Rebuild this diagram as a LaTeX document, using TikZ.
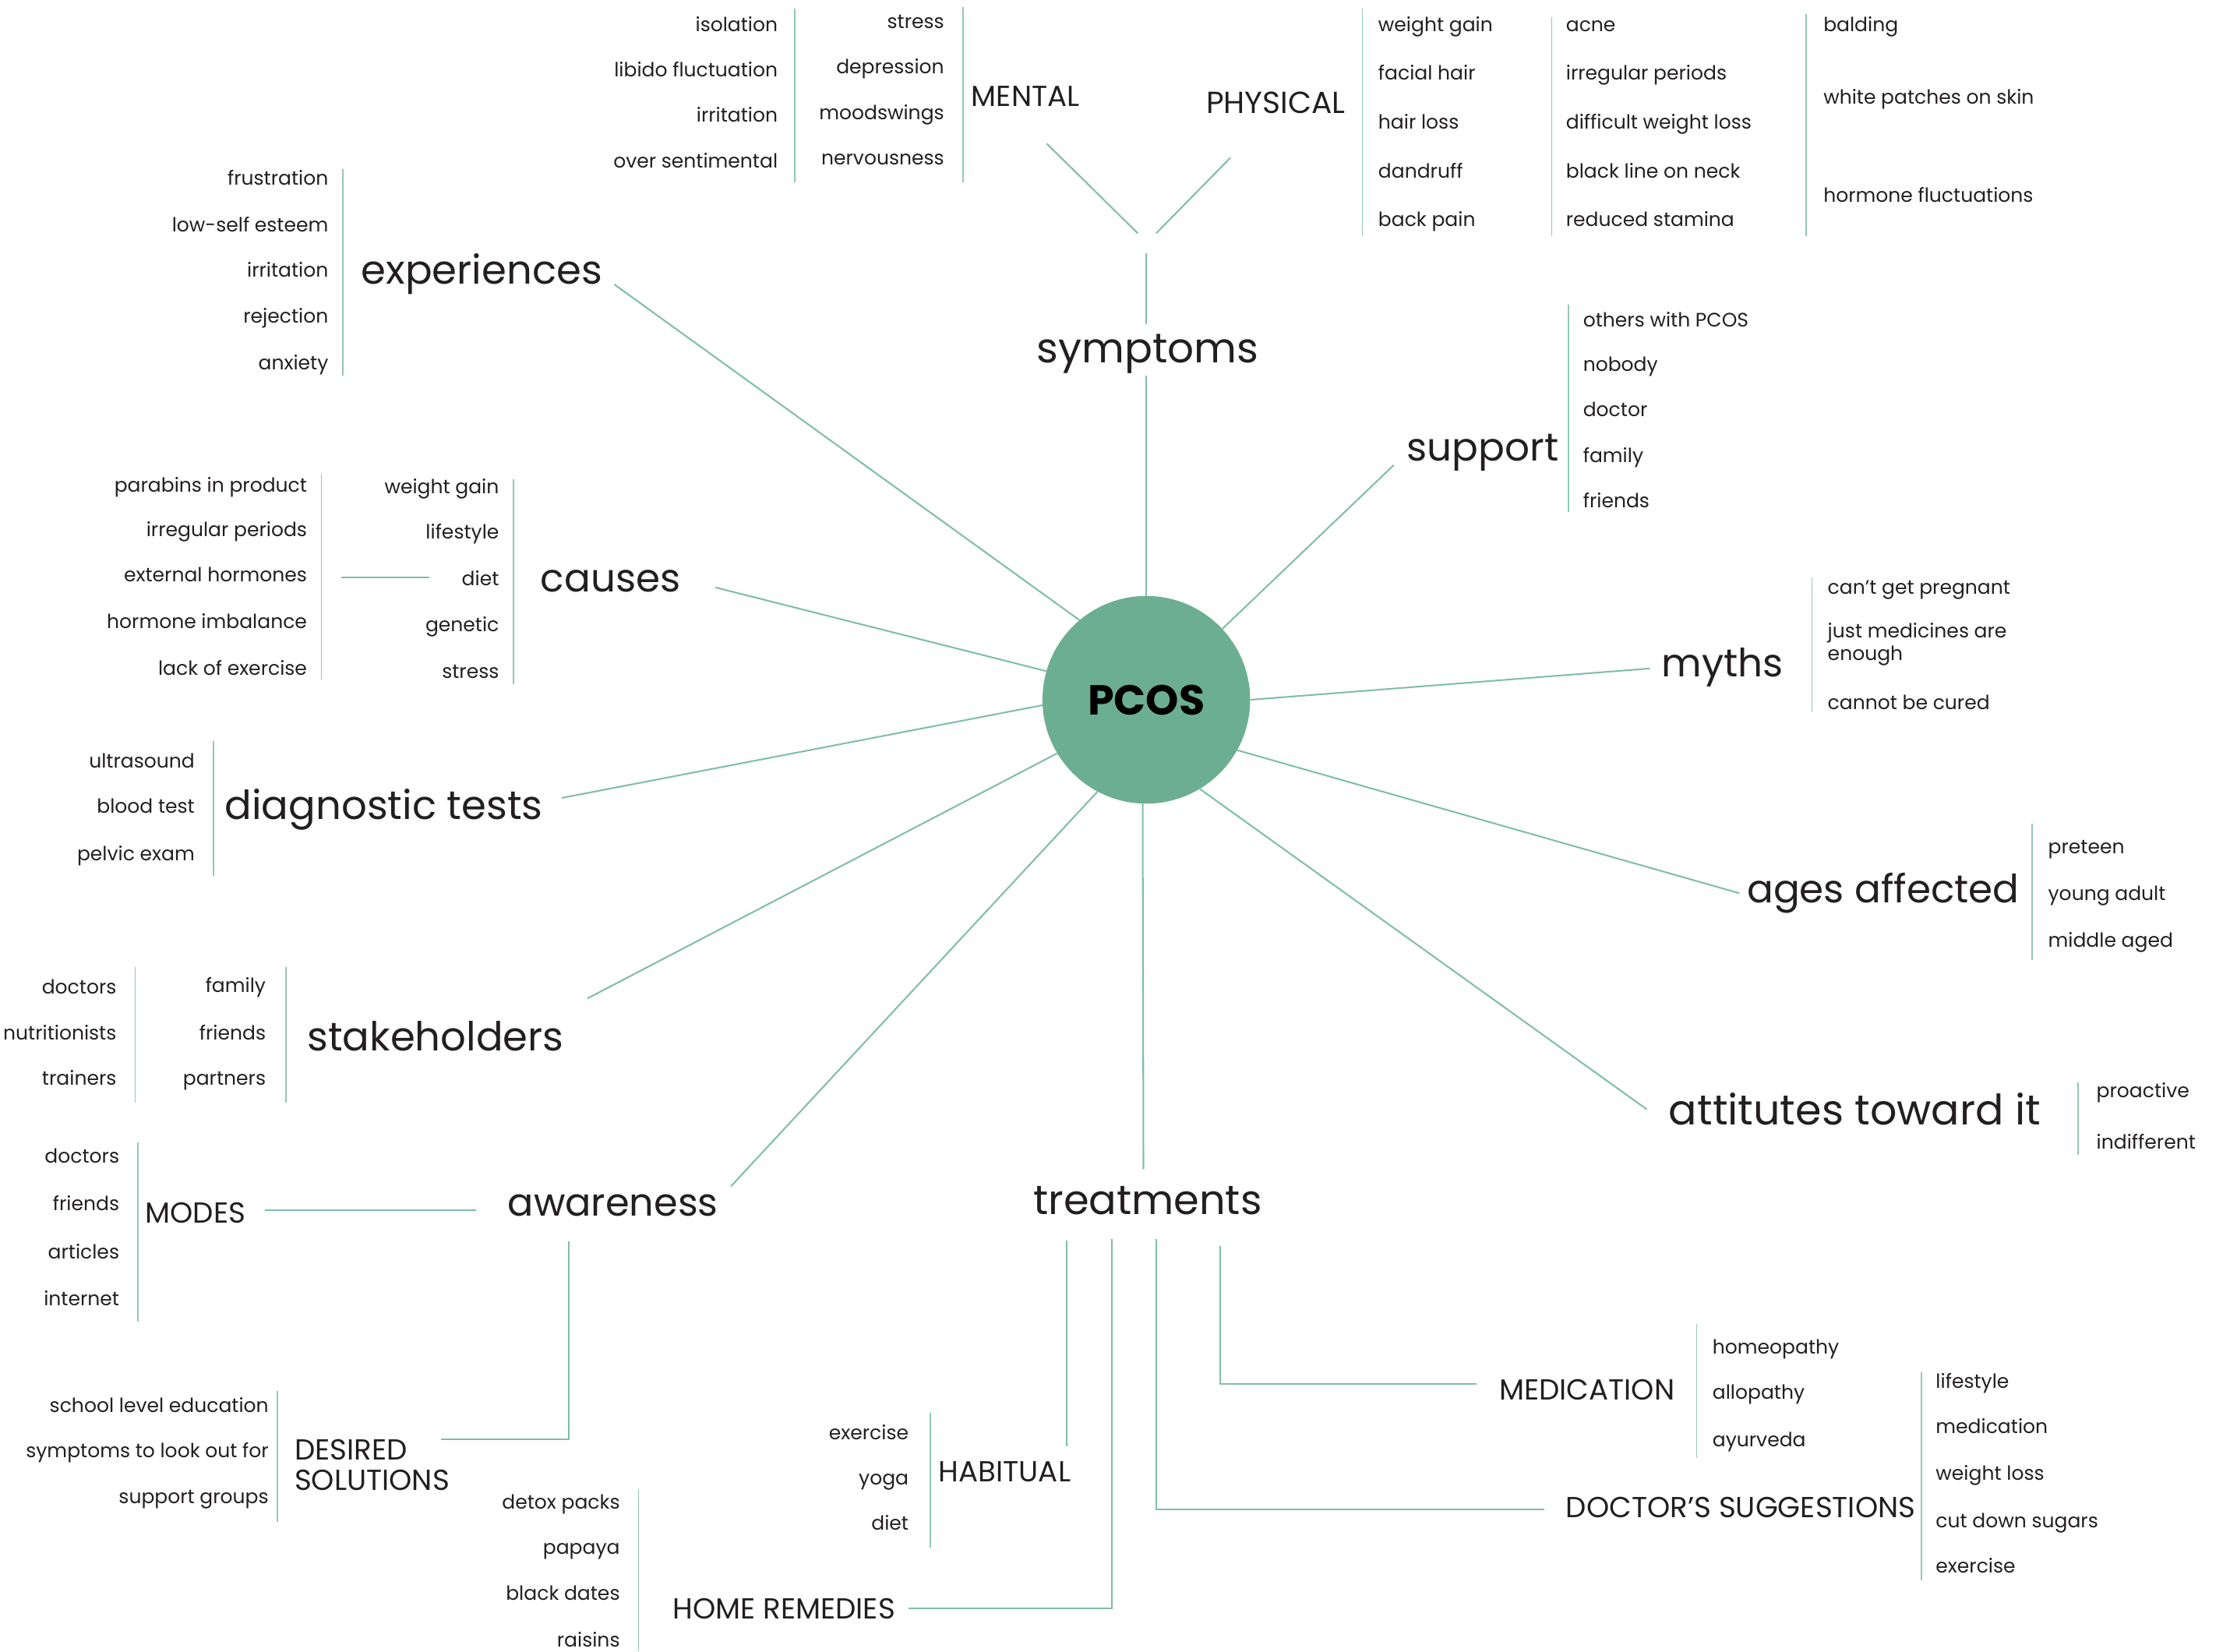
\documentclass[tikz,border=0pt]{standalone}
\usepackage{fontspec}
\setmainfont{Poppins}
\definecolor{ink}{RGB}{35,31,32}
\definecolor{leaf}{RGB}{108,174,145}
\definecolor{stem}{RGB}{128,190,168}
\tikzset{
  spoke/.style={draw=stem, line width=1.6pt},
  rule/.style={draw=stem!85, line width=1.3pt},
  topic/.style={font=\fontsize{#1}{#1}\selectfont, text=ink, inner sep=0pt, yshift=-10pt},
  topic/.default=42,
  group/.style={font=\fontsize{29}{31}\selectfont, text=ink, inner sep=0pt, yshift=-6.4pt},
  item/.style={font=\fontsize{19.5}{22.8}\selectfont, text=ink, inner sep=0pt, yshift=-5.7pt},
}
\begin{document}
\begin{tikzpicture}[x=0.05cm,y=-0.05cm]
\useasboundingbox (0,0) rectangle (1568,1161);
\fill[white] (0,0) rectangle (1568,1161);

\node[circle, fill=leaf, minimum size=7.3cm, inner sep=0pt, text=black,
  font=\fontsize{42}{46}\selectfont\bfseries] (pcos) at (806,492) {PCOS};

\node[topic=41.5, anchor=mid] (symptoms) at (807,246) {symptoms};
\node[topic=40, anchor=mid west] (experiences) at (254,191) {experiences};
\node[topic=39, anchor=mid east] (support) at (1096,315) {support};
\node[topic=39, anchor=mid west] (causes) at (380,407) {causes};
\node[topic=39, anchor=mid east] (myths) at (1254,467) {myths};
\node[topic=40, anchor=mid west] (diagnostic) at (158,567) {diagnostic tests};
\node[topic=39, anchor=mid east] (ages) at (1420,626) {ages affected};
\node[topic=40, anchor=mid west] (stakeholders) at (216,730) {stakeholders};
\node[topic=42, anchor=mid east] (attitudes) at (1435,782) {attitutes toward it};
\node[topic=38.5, anchor=mid] (awareness) at (431,846) {awareness};
\node[topic=41, anchor=mid] (treatments) at (807,845) {treatments};

\coordinate (exp-end) at (432,200);
\coordinate (sup-end) at (980,327);
\coordinate (cau-end) at (503,413);
\coordinate (myt-end) at (1160,470);
\coordinate (dia-end) at (395,561);
\coordinate (age-end) at (1223,628);
\coordinate (sta-end) at (413,702);
\coordinate (att-end) at (1158,780);
\coordinate (awa-end) at (514,834);
\coordinate (trt-end) at (804,822);
\coordinate (sym-end) at (806,264);

\draw[spoke] (pcos.90) -- (sym-end);
\draw[spoke] (pcos.130.5) -- (exp-end);
\draw[spoke] (pcos.43.2) -- (sup-end);
\draw[spoke] (pcos.164) -- (cau-end);
\draw[spoke] (pcos.0) -- (myt-end);
\draw[spoke] (pcos.183) -- (dia-end);
\draw[spoke] (pcos.-29.5) -- (age-end);
\draw[spoke] (pcos.211) -- (sta-end);
\draw[spoke] (pcos.-59.6) -- (att-end);
\draw[spoke] (pcos.242) -- (awa-end);
\draw[spoke] (pcos.268.7) -- (trt-end);

% symptoms
\coordinate (sym-top) at (806,178);
\coordinate (sym-low) at (806,228);
\coordinate (men-end) at (736,101);
\coordinate (men-tip) at (800,164);
\coordinate (phy-end) at (865,111);
\coordinate (phy-tip) at (813,164);
\draw[spoke] (sym-low) -- (sym-top);
\draw[spoke] (men-tip) -- (men-end);
\draw[spoke] (phy-tip) -- (phy-end);

\node[group, anchor=mid west] (mental) at (683,68.5) {MENTAL};
\node[group, anchor=mid west, font=\fontsize{30.5}{32}\selectfont] (physical) at (848,73.5) {PHYSICAL};
\foreach \lbl/\y [count=\i] in {isolation/16, libido fluctuation/48, irritation/80, over sentimental/112}
  \node[item, anchor=mid east] (menA\i) at (547,\y) {\lbl};
\foreach \lbl/\y [count=\i] in {stress/14, depression/46, moodswings/78, nervousness/110}
  \node[item, anchor=mid east] (menB\i) at (664,\y) {\lbl};
\foreach \lbl/\y [count=\i] in {weight gain/16, facial hair/50, hair loss/85, dandruff/119, back pain/153}
  \node[item, anchor=mid west] (phyA\i) at (969,\y) {\lbl};
\foreach \lbl/\y [count=\i] in {acne/16, irregular periods/50, difficult weight loss/85, black line on neck/119, reduced stamina/153}
  \node[item, anchor=mid west] (phyB\i) at (1101,\y) {\lbl};
\foreach \lbl/\y [count=\i] in {balding/16, white patches on skin/67, hormone fluctuations/136}
  \node[item, anchor=mid west] (phyC\i) at (1282,\y) {\lbl};
\draw[rule] (559,6) -- (559,128);
\draw[rule] (677,5) -- (677,128);
\draw[rule] (958,6) -- (958,166);
\draw[rule] (1091,12) -- (1091,166);
\draw[rule] (1270,10) -- (1270,166);

% experiences
\foreach \lbl/\y [count=\i] in {frustration/124, low-self esteem/157, irritation/189, rejection/221, anxiety/254}
  \node[item, anchor=mid east] (exp\i) at (231,\y) {\lbl};
\draw[rule] (241,119) -- (241,264);

% support
\foreach \lbl/\y [count=\i] in {others with PCOS/224, nobody/255, doctor/287, family/319, friends/351}
  \node[item, anchor=mid west] (sup\i) at (1113,\y) {\lbl};
\draw[rule] (1103,214) -- (1103,360);

% causes
\foreach \lbl/\y [count=\i] in {parabins in product/340, irregular periods/371, external hormones/403, hormone imbalance/436, lack of exercise/469}
  \node[item, anchor=mid east] (cauA\i) at (216,\y) {\lbl};
\foreach \lbl/\y [count=\i] in {weight gain/341, lifestyle/373, diet/406, genetic/438, stress/471}
  \node[item, anchor=mid east] (cauB\i) at (351,\y) {\lbl};
\draw[rule] (226,333) -- (226,478);
\draw[rule] (361,337) -- (361,481);
\coordinate (cau-a) at (240,406);
\coordinate (cau-b) at (302,406);
\draw[spoke] (cau-a) -- (cau-b);

% diagnostic tests
\foreach \lbl/\y [count=\i] in {ultrasound/534, blood test/566, pelvic exam/599}
  \node[item, anchor=mid east] (dia\i) at (137,\y) {\lbl};
\draw[rule] (150,521) -- (150,616);

% myths
\node[item, anchor=mid west] (myt1) at (1285,412) {can’t get pregnant};
\node[item, anchor=west, align=left] (myt2) at (1285,449) {just medicines are\\enough};
\node[item, anchor=mid west] (myt3) at (1285,493) {cannot be cured};
\draw[rule] (1274,406) -- (1274,501);

% ages affected
\foreach \lbl/\y [count=\i] in {preteen/594, young adult/627, middle aged/660}
  \node[item, anchor=mid west] (age\i) at (1440,\y) {\lbl};
\draw[rule] (1429,579) -- (1429,675);

% attitudes
\foreach \lbl/\y [count=\i] in {proactive/766, indifferent/802}
  \node[item, anchor=mid west] (att\i) at (1474,\y) {\lbl};
\draw[rule] (1461,761) -- (1461,812);

% stakeholders
\foreach \lbl/\y [count=\i] in {doctors/693, nutritionists/725, trainers/757}
  \node[item, anchor=mid east] (staA\i) at (82,\y) {\lbl};
\foreach \lbl/\y [count=\i] in {family/692, friends/725, partners/757}
  \node[item, anchor=mid east] (staB\i) at (187,\y) {\lbl};
\draw[rule] (95,680) -- (95,775);
\draw[rule] (201,680) -- (201,775);

% awareness
\node[group, anchor=mid west] (modes) at (102,853.5) {MODES};
\foreach \lbl/\y [count=\i] in {doctors/812, friends/845, articles/879, internet/912}
  \node[item, anchor=mid east] (mod\i) at (84,\y) {\lbl};
\draw[rule] (97,803) -- (97,929);
\coordinate (mod-a) at (186,851);
\coordinate (mod-b) at (335,851);
\draw[spoke] (mod-a) -- (mod-b);

\node[group, anchor=west, align=left, font=\fontsize{29}{30.6}\selectfont] (desired) at (207,1025.5) {DESIRED\\SOLUTIONS};
\foreach \lbl/\y [count=\i] in {school level education/987, symptoms to look out for/1019, support groups/1051}
  \node[item, anchor=mid east] (des\i) at (189,\y) {\lbl};
\draw[rule] (195,978) -- (195,1070);
\coordinate (awa-down) at (400,873);
\coordinate (des-in) at (310,1012);
\draw[spoke] (awa-down) |- (des-in);

% treatments
\node[group, anchor=mid west] (habitual) at (660,1035.5) {HABITUAL};
\foreach \lbl/\y [count=\i] in {exercise/1006, yoga/1038, diet/1070}
  \node[item, anchor=mid east] (hab\i) at (639,\y) {\lbl};
\draw[rule] (654,993) -- (654,1088);
\coordinate (hab-a) at (750,872);
\coordinate (hab-b) at (750,1017);
\draw[spoke] (hab-a) -- (hab-b);

\node[group, anchor=mid west] (home) at (473,1132) {HOME REMEDIES};
\foreach \lbl/\y [count=\i] in {detox packs/1055, papaya/1087, black dates/1119, raisins/1152}
  \node[item, anchor=mid east] (hom\i) at (436,\y) {\lbl};
\draw[rule] (449,1047) -- (449,1161);
\coordinate (hom-a) at (782,871);
\coordinate (hom-b) at (639,1131);
\draw[spoke] (hom-a) |- (hom-b);

\node[group, anchor=mid west] (medication) at (1054,978) {MEDICATION};
\foreach \lbl/\y [count=\i] in {homeopathy/946, allopathy/978, ayurveda/1011}
  \node[item, anchor=mid west] (med\i) at (1204,\y) {\lbl};
\draw[rule] (1193,931) -- (1193,1025);
\coordinate (med-a) at (858,876);
\coordinate (med-b) at (1038,973);
\draw[spoke] (med-a) |- (med-b);

\node[group, anchor=mid west] (doctor) at (1101,1060.5) {DOCTOR’S SUGGESTIONS};
\foreach \lbl/\y [count=\i] in {lifestyle/970, medication/1002, weight loss/1035, cut down sugars/1068, exercise/1100}
  \node[item, anchor=mid west] (doc\i) at (1361,\y) {\lbl};
\draw[rule] (1351,965) -- (1351,1111);
\coordinate (doc-a) at (813,871);
\coordinate (doc-b) at (1086,1061);
\draw[spoke] (doc-a) |- (doc-b);
\end{tikzpicture}
\end{document}
